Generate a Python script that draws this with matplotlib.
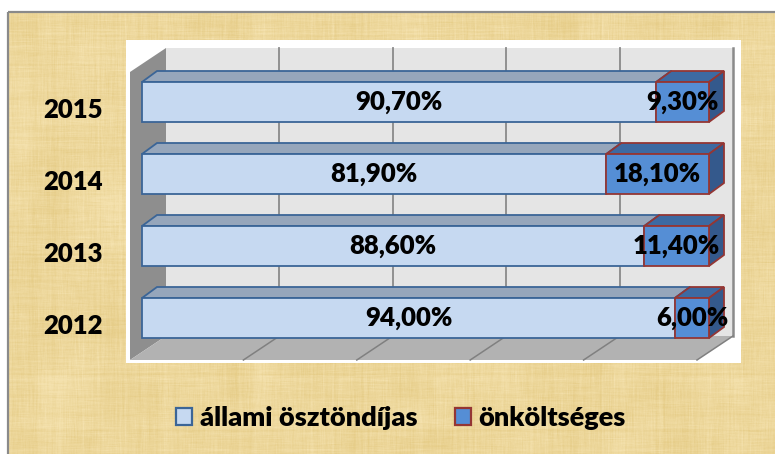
import numpy as np
import matplotlib
matplotlib.use("Agg")
import matplotlib.pyplot as plt
from matplotlib.patches import Polygon, Rectangle, Patch

# --- data -----------------------------------------------------------------
years = ["2012", "2013", "2014", "2015"]
allami = [94.00, 88.60, 81.90, 90.70]      # állami ösztöndíjas (%)
onkoltseges = [6.00, 11.40, 18.10, 9.30]   # önköltséges (%)
series_names = ["állami ösztöndíjas", "önköltséges"]
grid_values = [0, 20, 40, 60, 80, 100]

# --- styling --------------------------------------------------------------
FONT = ["Lato", "DejaVu Sans"]
WEIGHT = "heavy"
FS = 18.5
W, H = 775, 454

front_colors = ["#c6d9f1", "#558ed5"]
top_colors = ["#96a6bb", "#3d6aa2"]
side_colors = ["#7f93ad", "#34598c"]
edge_colors = ["#3b6597", "#943634"]

fig = plt.figure(figsize=(W / 100, H / 100), dpi=100)
fig.patch.set_facecolor("white")

# parchment background panel
bg = fig.add_axes([0, 0, 1, 1])
bg.set_xlim(0, W)
bg.set_ylim(H, 0)
bg.axis("off")

rng = np.random.default_rng(11)
th, tw = H - 12, W - 8


def smooth1d(a, k):
    ker = np.ones(k) / k
    return np.convolve(a, ker, mode="same")


# fibrous paper grain: thin vertical/horizontal streaks plus soft mottling
cols = smooth1d(rng.normal(size=tw), 2)
rows = smooth1d(rng.normal(size=th), 2)
vstreak = np.apply_along_axis(smooth1d, 0, rng.normal(size=(th, tw)), 15)
hstreak = np.apply_along_axis(smooth1d, 1, rng.normal(size=(th, tw)), 15)
coarse = rng.normal(size=(th // 30 + 2, tw // 30 + 2))
blot = np.kron(coarse, np.ones((30, 30)))[:th, :tw]
blot = np.apply_along_axis(smooth1d, 0, blot, 21)
blot = np.apply_along_axis(smooth1d, 1, blot, 21)
t = (0.30 * cols[None, :] + 0.30 * rows[:, None] + 0.9 * vstreak
     + 0.9 * hstreak + 0.45 * blot)
t = np.clip(t / 1.6, -1, 1)
base = np.array([237, 215, 155], dtype=float)
light = np.array([7, 10, 18], dtype=float)
tex = base[None, None, :] + t[..., None] * light[None, None, :]
tex = np.clip(tex, 0, 255) / 255.0
bg.imshow(tex, extent=(8, W, H, 12), interpolation="bilinear", aspect="auto", zorder=0)
bg.plot([8, 8], [H, 12], color="#8a8a8a", lw=1.6, zorder=1, solid_capstyle="butt")
bg.plot([8, W], [12, 12], color="#8a8a8a", lw=1.6, zorder=1, solid_capstyle="butt")
bg.add_patch(Rectangle((126, 40), 615, 323, facecolor="white", edgecolor="none", zorder=2))

# --- chart axes (front plane of the 3-D box) ------------------------------
ax = fig.add_axes([130 / W, (H - 360) / H, 567 / W, 288 / H])
ax.set_xlim(0, 100)
ax.set_ylim(-0.5, 3.5)
ax.patch.set_visible(False)
for s in ax.spines.values():
    s.set_visible(False)

sx, sy = 100 / 567, 4 / 288            # data units per pixel
WALL_DX, WALL_DY = 36 * sx, 24 * sy
FRONT_DX, FRONT_DY = 12 * sx, 6 * sy
BACK_DX, BACK_DY = 27 * sx, 17 * sy
HALF = 20 * sy
y0, y1 = -0.5, 3.5


def poly(pts, fc, ec="none", lw=0.0, z=1):
    ax.add_patch(Polygon(pts, closed=True, facecolor=fc, edgecolor=ec,
                         linewidth=lw, zorder=z, clip_on=False, joinstyle="miter"))


# walls and floor
poly([(WALL_DX, y0 + WALL_DY), (100 + WALL_DX, y0 + WALL_DY),
      (100 + WALL_DX, y1 + WALL_DY), (WALL_DX, y1 + WALL_DY)], "#e5e5e5", z=1)
poly([(0, y0), (WALL_DX, y0 + WALL_DY), (WALL_DX, y1 + WALL_DY), (0, y1)], "#8e8e8e", z=1)
poly([(0, y0), (100, y0), (100 + WALL_DX, y0 + WALL_DY), (WALL_DX, y0 + WALL_DY)], "#b2b2b2", z=1)

for g in grid_values[1:]:
    ax.plot([g + WALL_DX, g + WALL_DX], [y0 + WALL_DY, y1 + WALL_DY],
            color="#8a8a8a", lw=1.3 if g < 100 else 1.8, zorder=2, clip_on=False)
    ax.plot([g, g + WALL_DX], [y0, y0 + WALL_DY], color="#808080", lw=1.1,
            zorder=2, clip_on=False)

# stacked 3-D bars
for i, (a, b) in enumerate(zip(allami, onkoltseges)):
    lo, hi = i - HALF, i + HALF
    segments = [(0, a), (a, a + b)]
    for k, (xa, xb) in enumerate(segments):
        z = 3 + k
        ec, lw = edge_colors[k], 1.3
        # top face
        poly([(xa + FRONT_DX, hi + FRONT_DY), (xb + FRONT_DX, hi + FRONT_DY),
              (xb + BACK_DX, hi + BACK_DY), (xa + BACK_DX, hi + BACK_DY)],
             top_colors[k], ec, lw, z)
        # right side face
        poly([(xb + FRONT_DX, lo + FRONT_DY), (xb + FRONT_DX, hi + FRONT_DY),
              (xb + BACK_DX, hi + BACK_DY), (xb + BACK_DX, lo + BACK_DY)],
             side_colors[k], ec, lw, z)
        # front face
        poly([(xa + FRONT_DX, lo + FRONT_DY), (xb + FRONT_DX, lo + FRONT_DY),
              (xb + FRONT_DX, hi + FRONT_DY), (xa + FRONT_DX, hi + FRONT_DY)],
             front_colors[k], ec, lw, z)
        val = xb - xa
        ax.text((xa + xb) / 2 + FRONT_DX, i + FRONT_DY,
                f"{val:.2f}".replace(".", ",") + "%",
                ha="center", va="center", fontsize=FS, fontweight=WEIGHT,
                family=FONT, color="black", zorder=10, clip_on=False)

ax.set_xticks([])
ax.set_yticks(range(len(years)))
ax.set_yticklabels(years, fontsize=FS, fontweight=WEIGHT, family=FONT)
ax.tick_params(axis="y", length=0, pad=19.5)

# legend
handles = [Patch(facecolor=front_colors[k], edgecolor=edge_colors[k], linewidth=1.6)
           for k in range(2)]
fig.legend(handles, series_names, loc="center", bbox_to_anchor=(401 / W, 1 - 418 / H),
           ncol=2, frameon=False, handlelength=0.6, handleheight=0.6,
           handletextpad=0.27, columnspacing=1.4,
           prop={"family": FONT, "weight": WEIGHT, "size": 19.5})

fig.savefig("out.png", dpi=100)
